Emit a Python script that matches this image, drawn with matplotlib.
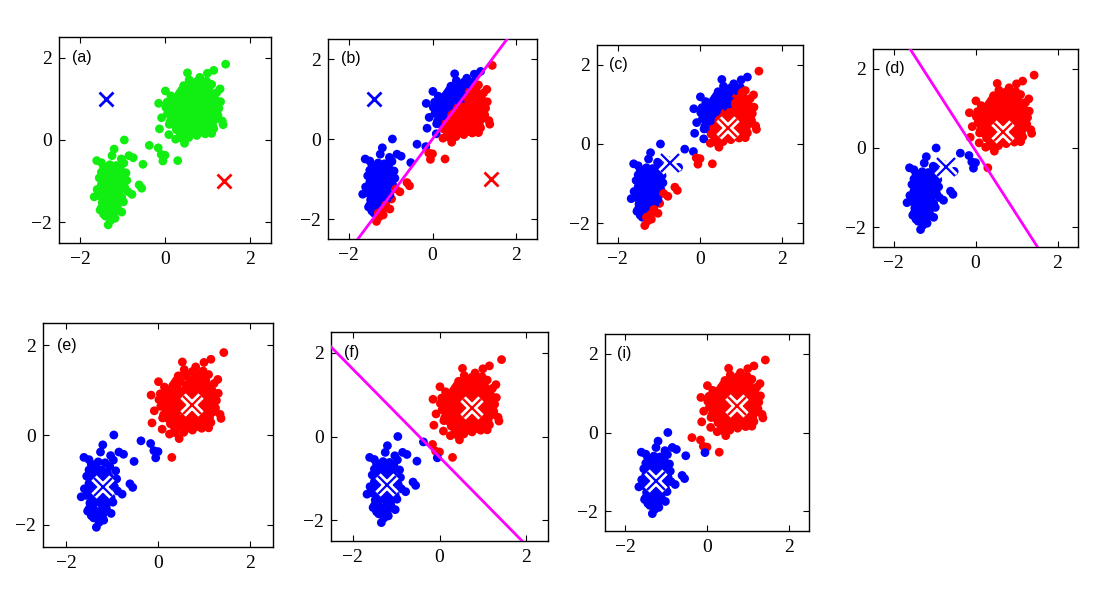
import matplotlib.pyplot as plt
import numpy as np

plt.rcParams['font.family'] = 'serif'
plt.rcParams['font.serif'] = ['Liberation Serif', 'DejaVu Serif']

# points (standardised coordinates)
upper_pts = [
    (1.43, 1.84), (1.15, 1.69), (1.00, 1.62), (0.82, 1.52), (0.53, 1.63), (0.57, 1.46),
    (0.75, 1.42), (0.98, 1.43), (1.10, 1.35), (1.30, 1.24), (1.22, 1.15), (0.44, 1.32),
    (0.01, 1.19), (0.14, 1.07), (-0.15, 0.89), (0.20, 1.00), (0.32, 1.10), (-0.08, 0.54),
    (-0.13, 0.27), (0.10, 0.38), (0.09, 0.13), (0.25, 0.02), (0.46, -0.08), (0.38, 0.05),
    (0.56, 0.06), (0.75, 0.11), (0.95, 0.15), (1.10, 0.16), (1.37, 0.37), (1.35, 0.46),
    (1.27, 0.77), (1.25, 0.60),
    (0.62, 1.31), (0.79, 1.27), (0.91, 1.24), (1.04, 1.21), (0.69, 1.19),
    (0.36, 1.16), (0.49, 1.19), (0.61, 1.11), (0.86, 1.14), (0.96, 1.09), (1.13, 1.07), (0.76, 1.07),
    (0.27, 0.97), (0.43, 1.03), (0.55, 0.97), (0.68, 1.01), (0.81, 0.95), (0.93, 0.99),
    (1.06, 0.94), (1.18, 0.99), (1.31, 0.93),
    (0.19, 0.87), (0.35, 0.91), (0.48, 0.85), (0.63, 0.88), (0.74, 0.84), (0.89, 0.89),
    (1.01, 0.83), (1.12, 0.87), (1.23, 0.81),
    (0.14, 0.74), (0.31, 0.79), (0.42, 0.73), (0.56, 0.77), (0.67, 0.73), (0.81, 0.78),
    (0.93, 0.73), (1.06, 0.76), (1.16, 0.71), (0.02, 0.79),
    (0.06, 0.64), (0.23, 0.67), (0.36, 0.61), (0.51, 0.66), (0.62, 0.61), (0.76, 0.67),
    (0.88, 0.61), (1.01, 0.64), (1.13, 0.59), (1.21, 0.68),
    (0.17, 0.51), (0.31, 0.49), (0.44, 0.55), (0.57, 0.50), (0.71, 0.54), (0.83, 0.49),
    (0.96, 0.53), (1.08, 0.47), (1.19, 0.51),
    (0.21, 0.37), (0.33, 0.41), (0.49, 0.35), (0.61, 0.41), (0.76, 0.36), (0.87, 0.41),
    (1.01, 0.35), (1.12, 0.39),
    (0.27, 0.25), (0.43, 0.29), (0.54, 0.23), (0.69, 0.27), (0.83, 0.23), (0.94, 0.29), (1.06, 0.24),
    (0.36, 0.14), (0.51, 0.17), (0.64, 0.15), (0.86, 0.19),
    (0.58, 1.38), (0.89, 1.35), (0.40, 1.22), (1.02, 1.30), (0.66, 0.93), (0.86, 1.04),
    (0.46, 0.94), (1.15, 0.92), (0.72, 0.80), (0.96, 0.80), (0.40, 0.82), (0.58, 0.70),
    (0.83, 0.70), (1.08, 0.70), (0.28, 0.70), (0.46, 0.60), (0.70, 0.58), (0.92, 0.57),
    (0.38, 0.46), (0.63, 0.46), (0.89, 0.46), (1.03, 0.43), (0.52, 0.32), (0.78, 0.31),
    (1.15, 0.28), (0.65, 1.05), (0.98, 1.18), (0.25, 0.58), (0.12, 0.45), (0.05, 0.92),
]

lower_pts = [
    (-0.96, 0.00), (-1.20, -0.22), (-1.61, -0.50), (-1.50, -0.55), (-1.25, -0.38),
    (-1.03, -0.46), (-0.97, -0.56), (-0.75, -0.43), (-0.85, -0.38), (-0.52, -0.59),
    (-0.61, -1.09), (-0.55, -1.17), (-0.78, -1.32), (-1.02, -1.10), (-0.98, -1.50),
    (-1.67, -1.38), (-1.53, -1.70), (-1.34, -2.06), (-1.18, -1.90), (-1.02, -1.75), (-1.40, -1.85),
    (-1.45, -0.65), (-1.30, -0.60), (-1.15, -0.62), (-1.05, -0.70), (-1.50, -0.78),
    (-1.38, -0.80), (-1.22, -0.78), (-1.10, -0.85), (-0.92, -0.80),
    (-1.55, -0.92), (-1.42, -0.95), (-1.30, -0.92), (-1.18, -0.98), (-1.05, -0.95), (-0.90, -0.98),
    (-1.50, -1.08), (-1.38, -1.10), (-1.25, -1.05), (-1.12, -1.12), (-0.95, -1.15), (-1.60, -1.20),
    (-1.45, -1.22), (-1.32, -1.25), (-1.20, -1.22), (-1.08, -1.28), (-0.88, -1.25),
    (-1.55, -1.35), (-1.42, -1.38), (-1.28, -1.40), (-1.15, -1.36), (-1.02, -1.40),
    (-1.48, -1.52), (-1.35, -1.50), (-1.22, -1.55), (-1.10, -1.52),
    (-1.50, -1.65), (-1.38, -1.68), (-1.25, -1.70), (-1.12, -1.65),
    (-1.45, -1.80), (-1.30, -1.85), (-1.20, -1.78),
    (-1.35, -0.70), (-1.25, -0.90), (-1.40, -1.05), (-1.32, -1.15), (-1.38, -1.30),
    (-1.20, -1.45), (-1.42, -1.60), (-1.28, -1.95),
]

bridge_pts = [(-0.37, -0.13), (-0.16, -0.19), (-0.09, -0.35), (0.00, -0.37), (-0.05, -0.51), (0.30, -0.50)]

# cluster centres (blue, red) at each stage
mu_init = [(-1.40, 1.00), (1.40, -1.00)]
mu_step1 = [(-0.72, -0.47), (0.68, 0.40)]
mu_step2 = [(-1.20, -1.17), (0.74, 0.67)]
mu_final = [(-1.25, -1.22), (0.74, 0.67)]

panel_names = ['(a)', '(b)', '(c)', '(d)', '(e)', '(f)', '(i)']

pts = np.array(upper_pts + lower_pts + bridge_pts)


def assign(mu):
    mu = np.array(mu)
    d2 = ((pts[:, None, :] - mu[None, :, :]) ** 2).sum(-1)
    return d2.argmin(axis=1)


# (labels from, centres drawn, boundary, outlined centres)
setup = [
    (None, mu_init, False, False),
    (mu_init, mu_init, True, False),
    (mu_init, mu_step1, False, True),
    (mu_step1, mu_step1, True, True),
    (mu_step1, mu_step2, False, True),
    (mu_step2, mu_step2, True, True),
    (mu_final, mu_final, False, True),
]

rects_px = [
    (59, 37, 271, 243), (328, 39, 537, 239), (597, 45, 803, 243), (873, 49, 1078, 247),
    (43, 323, 273, 547), (331, 332, 548, 541), (605, 334, 809, 531),
]

W, H = 1115, 589
fig = plt.figure(figsize=(W / 100, H / 100), dpi=100)
cols = np.array(['#0000ff', '#ff0000'])

for name, (lab_mu, cen, line, outlined), (x0, y0, x1, y1) in zip(panel_names, setup, rects_px):
    ax = fig.add_axes([x0 / W, 1 - y1 / H, (x1 - x0) / W, (y1 - y0) / H])
    if lab_mu is None:
        c = '#11ee11'
    else:
        c = cols[assign(lab_mu)]
    ax.scatter(pts[:, 0], pts[:, 1], s=40, c=c, edgecolors='none', zorder=2)

    if line:
        b, r = np.array(cen[0]), np.array(cen[1])
        m = (b + r) / 2
        d = r - b
        perp = np.array([-d[1], d[0]]) / np.hypot(*d)
        ends = np.array([m - 10 * perp, m + 10 * perp])
        ax.plot(ends[:, 0], ends[:, 1], color='#ff00ff', lw=2, zorder=3)

    for (cx, cy), cc in zip(cen, cols):
        if outlined:
            ax.plot(cx, cy, 'x', color='white', ms=13, mew=5.5, zorder=4)
            ax.plot(cx, cy, 'x', color=cc, ms=13, mew=1.6, zorder=5)
        else:
            ax.plot(cx, cy, 'x', color=cc, ms=10, mew=2, zorder=4)

    ax.set_xlim(-2.5, 2.5)
    ax.set_ylim(-2.5, 2.5)
    ax.set_xticks([-2, 0, 2])
    ax.set_yticks([-2, 0, 2])
    ax.tick_params(direction='in', top=True, right=True, length=4, labelsize=14)
    ax.tick_params(axis='x', pad=6)
    ax.tick_params(axis='y', pad=5)
    for s in ax.spines.values():
        s.set_linewidth(1.0)
    ax.text(0.06, 0.9, name, transform=ax.transAxes, fontsize=11.5,
            family='Liberation Sans', va='center')

fig.savefig('out.png', dpi=100)
